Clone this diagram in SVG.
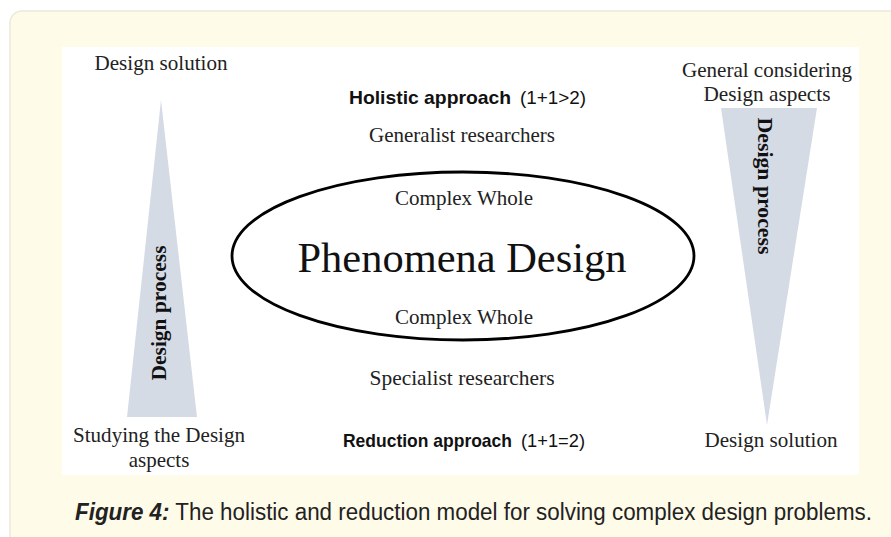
<svg xmlns="http://www.w3.org/2000/svg" width="891" height="537" viewBox="0 0 891 537">
  <style>
    .serif { font-family: "Liberation Serif", "Times New Roman", serif; font-size: 21px; fill: #222; text-anchor: middle; }
    .title { font-family: "Liberation Serif", "Times New Roman", serif; font-size: 43px; fill: #111; text-anchor: middle; }
    .sans-b { font-family: "Liberation Sans Narrow", "Liberation Sans", Arial, sans-serif; font-size: 19px; font-weight: bold; fill: #111; }
    .sans { font-family: "Liberation Sans Narrow", "Liberation Sans", Arial, sans-serif; font-size: 19px; fill: #111; }
    .wedge { fill: #d5dbe5; }
    .vlabel { font-family: "Liberation Serif", "Times New Roman", serif; font-weight: bold; font-size: 22px; fill: #111; text-anchor: middle; }
  </style>

  <!-- page card -->
  <rect x="0" y="0" width="891" height="537" fill="#ffffff"/>
  <rect x="10" y="11" width="900" height="560" rx="12" fill="#fffbe9" stroke="#ece9dc" stroke-width="1.5"/>
  <!-- figure panel -->
  <rect x="62" y="47" width="797" height="428" fill="#ffffff"/>

  <!-- left wedge: studying aspects up to the design solution -->
  <g id="left-wedge">
    <polygon class="wedge" points="161,100 197,417 127,417"/>
    <text class="vlabel" transform="translate(166,313) rotate(-90)" textLength="135" lengthAdjust="spacingAndGlyphs">Design process</text>
    <text class="serif" x="161" y="70" textLength="133" lengthAdjust="spacingAndGlyphs">Design solution</text>
    <text class="serif" x="159" y="442" textLength="172" lengthAdjust="spacingAndGlyphs">Studying  the Design</text>
    <text class="serif" x="159" y="467">aspects</text>
  </g>

  <!-- right wedge: general aspects narrowing to the design solution -->
  <g id="right-wedge">
    <polygon class="wedge" points="721,108 817,108 767,425"/>
    <text class="vlabel" transform="translate(758,186) rotate(90)" textLength="137" lengthAdjust="spacingAndGlyphs">Design process</text>
    <text class="serif" x="767" y="77" textLength="170" lengthAdjust="spacingAndGlyphs">General considering</text>
    <text class="serif" x="767" y="101" textLength="127" lengthAdjust="spacingAndGlyphs">Design aspects</text>
    <text class="serif" x="771" y="447" textLength="133" lengthAdjust="spacingAndGlyphs">Design solution</text>
  </g>

  <!-- central phenomenon -->
  <g id="phenomena">
    <ellipse cx="463" cy="256" rx="231" ry="84" fill="#ffffff" stroke="#000" stroke-width="2.8"/>
    <text class="title" x="462" y="272" textLength="329" lengthAdjust="spacingAndGlyphs">Phenomena Design</text>
    <text class="serif" x="464" y="205" textLength="138" lengthAdjust="spacingAndGlyphs">Complex Whole</text>
    <text class="serif" x="464" y="324" textLength="138" lengthAdjust="spacingAndGlyphs">Complex Whole</text>
  </g>

  <!-- holistic side: approach label and researchers -->
  <g id="holistic">
    <text class="sans-b" x="349" y="104" textLength="162" lengthAdjust="spacingAndGlyphs">Holistic approach</text>
    <text class="sans" x="520" y="104" textLength="66" lengthAdjust="spacingAndGlyphs">(1+1&gt;2)</text>
    <text class="serif" x="462" y="142" textLength="186" lengthAdjust="spacingAndGlyphs">Generalist researchers</text>
  </g>

  <!-- reduction side: researchers and approach label -->
  <g id="reduction">
    <text class="serif" x="462" y="385" textLength="185" lengthAdjust="spacingAndGlyphs">Specialist researchers</text>
    <text class="sans-b" x="343" y="447" textLength="169" lengthAdjust="spacingAndGlyphs">Reduction approach</text>
    <text class="sans" x="521" y="447" textLength="64" lengthAdjust="spacingAndGlyphs">(1+1=2)</text>
  </g>

  <g id="connectors"/>

  <!-- caption -->
  <text x="75" y="520" font-size="23" font-family="'Liberation Sans Narrow', 'Liberation Sans', Arial, sans-serif" fill="#222" textLength="797" lengthAdjust="spacingAndGlyphs"><tspan font-weight="bold" font-style="italic">Figure 4:</tspan> The holistic and reduction model for solving complex design problems.</text>
</svg>
